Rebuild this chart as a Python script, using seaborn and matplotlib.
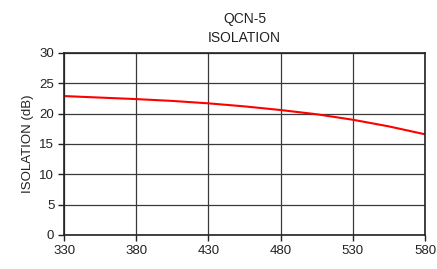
import seaborn as sns
import matplotlib.pyplot as plt
import pandas as pd

sns.set_style("white")
plt.rcParams["font.family"] = ["Liberation Sans", "DejaVu Sans"]

freq = [330, 355, 380, 405, 430, 455, 480, 505, 530, 555, 580]
isolation = [22.9, 22.65, 22.4, 22.1, 21.7, 21.2, 20.6, 19.9, 19.0, 17.9, 16.6]
xticks = [330, 380, 430, 480, 530, 580]
yticks = [0, 5, 10, 15, 20, 25, 30]

df = pd.DataFrame({"freq": freq, "isolation": isolation})

fig = plt.figure(figsize=(4.37, 2.69), dpi=100)
ax = fig.add_axes([0.1465, 0.1264, 0.826, 0.6766])

sns.lineplot(data=df, x="freq", y="isolation", color="#ff0000", linewidth=1.5, ax=ax)

ax.set_xlim(330, 580)
ax.set_ylim(0, 30)
ax.set_xticks(xticks)
ax.set_yticks(yticks)
ax.grid(True, color="#3a3a3a", linewidth=0.9)
for s in ax.spines.values():
    s.set_color("#222222")
    s.set_linewidth(1.2)
ax.tick_params(direction="out", length=4, width=1, color="#222222",
               labelsize=9.5, labelcolor="#222222", bottom=True, left=True, pad=3)
ax.set_xlabel("")
ax.set_ylabel("ISOLATION (dB)", fontsize=9.5, color="#222222", labelpad=4)
ax.set_title("QCN-5\nISOLATION", fontsize=10, color="#222222", linespacing=1.45, pad=8)

fig.savefig("out.png", dpi=100)
